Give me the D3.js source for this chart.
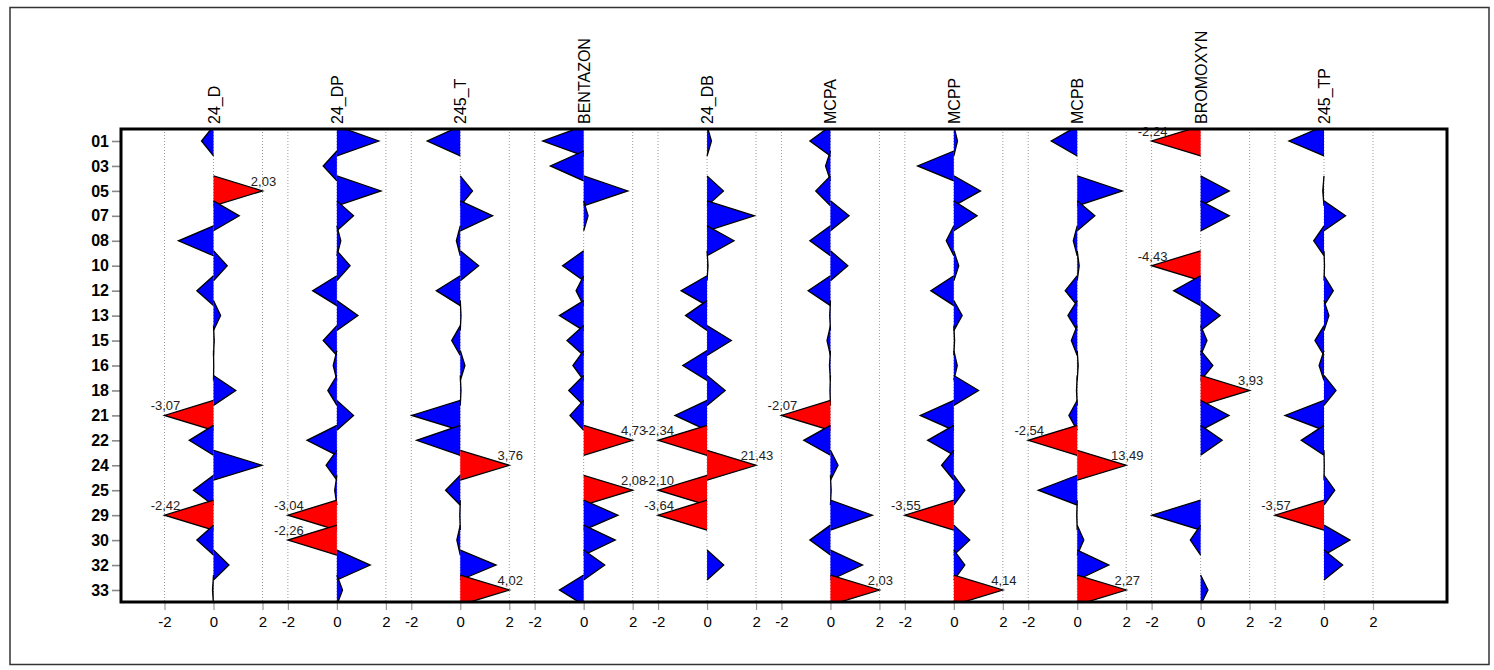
<!DOCTYPE html>
<html><head><meta charset="utf-8">
<script src="https://cdn.jsdelivr.net/npm/d3@7"></script>
<style>
body{margin:0;background:#fff;}
svg{display:block;font-family:"Liberation Sans",Arial,sans-serif;}
</style></head>
<body><svg id="c" width="1494" height="670"></svg>
<script>
// ---- data ----
const rows = ["01","03","05","07","08","10","12","13","15","16","18","21","22","24","25","29","30","32","33"];
const compounds = ["24_D","24_DP","245_T","BENTAZON","24_DB","MCPA","MCPP","MCPB","BROMOXYN","245_TP"];
const tickValues = [-2, 0, 2];
const v24_D     = [-0.49,null,2.03,1.05,-1.43,0.56,-0.68,0.29,0.03,0.01,0.91,-3.07,-0.99,1.98,-0.82,-2.42,-0.68,0.63,-0.04];
const v24_DP    = [1.71,-0.56,1.80,0.68,0.16,0.54,-0.99,0.86,-0.56,-0.15,-0.37,0.68,-1.22,-0.44,-0.09,-3.04,-2.26,1.36,0.23];
const v245_T    = [-1.35,null,0.50,1.32,-0.16,0.75,-0.98,0.03,-0.35,0.19,0.03,-1.98,-1.78,3.76,-0.60,-0.02,-0.14,1.46,4.02];
const vBENTAZON = [-1.67,-1.36,1.80,0.18,null,-0.86,-0.31,-0.99,-0.68,-0.44,-0.61,-0.56,4.73,null,2.08,1.40,1.29,0.86,-0.99];
const v24_DB    = [0.18,null,0.67,1.93,1.10,0.04,-1.06,-0.88,0.99,-0.99,0.74,-1.31,-2.34,21.43,-2.10,-3.64,null,0.68,null];
const vMCPA     = [-0.84,-0.20,-0.60,0.76,-0.84,0.71,-0.91,-0.03,-0.14,-0.04,-0.02,-2.07,-1.09,0.31,0.03,1.71,-0.84,1.31,2.03];
const vMCPP     = [0.15,-1.48,1.09,0.95,-0.31,0.20,-0.94,0.34,0.03,0.14,1.01,-1.37,-1.07,-0.50,0.45,-3.55,0.65,0.45,4.14];
const vMCPB     = [-1.06,null,1.84,0.72,-0.16,0.08,-0.49,-0.38,-0.24,0.04,-0.03,-0.34,-2.54,13.49,-1.59,-0.02,0.27,1.29,2.27];
const vBROMOXYN = [-2.24,null,1.17,1.17,null,-4.43,-1.10,0.80,0.26,0.50,3.93,1.16,0.88,null,null,-1.99,-0.42,null,0.30];
const v245_TP   = [-1.43,null,-0.05,0.88,-0.42,0.02,0.38,0.20,-0.37,-0.20,0.49,-1.59,-0.93,0.01,0.44,-3.57,1.06,0.76,null];
const seriesValues = [v24_D,v24_DP,v245_T,vBENTAZON,v24_DB,vMCPA,vMCPP,vMCPB,vBROMOXYN,v245_TP];

// ---- layout ----
const box = {x0:121, x1:1447, y0:129, y1:602};
const svg = d3.select("#c");

// outer frame
svg.append("rect").attr("x",10).attr("y",7.5).attr("width",1479).attr("height",657)
  .attr("fill","none").attr("stroke","#333").attr("stroke-width",1.5);

const y = d3.scalePoint().domain(rows).range([141,590]);
const rowStep = y.step();
const half = rowStep*0.6;
const xp = d3.scalePoint().domain(compounds).range([213.5,1324]);
const vScale = d3.scaleLinear().domain([-2,2]).range([-49,49]).clamp(true);
const fmt = v => d3.format(".2f")(v).replace("\u2212","-").replace(".",",");

svg.append("clipPath").attr("id","clip").append("rect")
  .attr("x",box.x0).attr("y",box.y0).attr("width",box.x1-box.x0).attr("height",box.y1-box.y0);

// grid lines
const grid = svg.append("g");
compounds.forEach(c=>{
  tickValues.forEach(t=>{
    const gx = xp(c)+vScale(t);
    grid.append("line").attr("x1",gx).attr("x2",gx).attr("y1",box.y0).attr("y2",box.y1)
      .attr("stroke","#9a9a9a").attr("stroke-width",1).attr("stroke-dasharray","1,2");
  });
});

// triangles
const plot = svg.append("g").attr("clip-path","url(#clip)");
compounds.forEach((c,ci)=>{
  const vals = seriesValues[ci];
  const x0 = xp(c);
  const g = plot.append("g");
  rows.forEach((r,ri)=>{
    const v = vals[ri];
    if(v===null) return;
    const yc = y(r);
    const tip = x0+vScale(v);
    const extreme = Math.abs(v)>2;
    g.append("path")
      .attr("d", d3.line()([[x0,yc-half],[tip,yc],[x0,yc+half]]) )
      .attr("fill", extreme ? "#ff0000" : "#0000ff")
      .attr("stroke","#000").attr("stroke-width",1.3).attr("stroke-linejoin","miter");
  });
});
// value labels
const labs = svg.append("g").attr("font-size",13).attr("fill","#222");
compounds.forEach((c,ci)=>{
  const vals = seriesValues[ci];
  const x0 = xp(c);
  rows.forEach((r,ri)=>{
    const v = vals[ri];
    if(v===null || Math.abs(v)<=2) return;
    labs.append("text").attr("x",x0+vScale(v)+1).attr("y",y(r)-5)
      .attr("text-anchor","middle").text(fmt(v));
  });
});

// headers
const hdr = svg.append("g").attr("font-size",16).attr("fill","#000");
compounds.forEach(c=>{
  hdr.append("text").attr("transform",`translate(${xp(c)+6},124) rotate(-90)`)
    .attr("text-anchor","start").text(c);
});

// left axis
const ya = svg.append("g").attr("transform",`translate(${box.x0},0)`)
  .call(d3.axisLeft(y).tickSize(9).tickPadding(3));
ya.select(".domain").remove();
ya.selectAll(".tick line").attr("stroke","#888").attr("stroke-width",1.6);
ya.selectAll(".tick text").attr("font-size",16).attr("font-weight","bold")
  .attr("font-family","'Liberation Sans',Arial,sans-serif").attr("fill","#000");

// bottom axes per panel
compounds.forEach(c=>{
  const s = d3.scaleLinear().domain([-2,2]).range([xp(c)+vScale(-2), xp(c)+vScale(2)]);
  const ax = svg.append("g").attr("transform",`translate(0,${box.y1})`)
    .call(d3.axisBottom(s).tickValues(tickValues).tickSize(8).tickPadding(6).tickFormat(d=>d3.format("d")(d).replace("\u2212","-")));
  ax.select(".domain").remove();
  ax.selectAll(".tick line").attr("stroke","#999").attr("stroke-width",1.2);
  ax.selectAll(".tick text").attr("font-size",15)
    .attr("font-family","'Liberation Sans',Arial,sans-serif").attr("fill","#000");
});

// plot box
svg.append("rect").attr("x",box.x0).attr("y",box.y0).attr("width",box.x1-box.x0).attr("height",box.y1-box.y0)
  .attr("fill","none").attr("stroke","#000").attr("stroke-width",3);
</script></body></html>
